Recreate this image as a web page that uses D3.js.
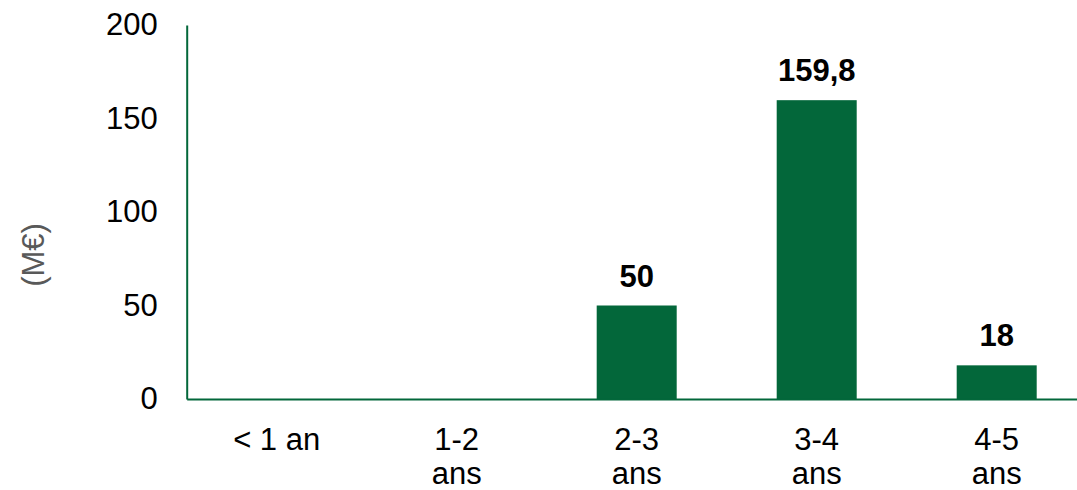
<!DOCTYPE html>
<html>
<head>
<meta charset="utf-8">
<script src="https://cdn.jsdelivr.net/npm/d3@7"></script>
<style>
  html, body { margin: 0; padding: 0; background: #fff; }
  svg { display: block; font-family: "Liberation Sans", Arial, Helvetica, sans-serif; }
</style>
</head>
<body>
<svg id="chart" width="1077" height="490"></svg>
<script>
// Maturity buckets and amounts (M€)
const categories = ["< 1 an", "1-2 ans", "2-3 ans", "3-4 ans", "4-5 ans"];
const amounts = [0, 0, 50, 159.8, 18];
const yTicks = [0, 50, 100, 150, 200];

const green = "#03673a";
const fontSize = 31;
const svg = d3.select("#chart");

const x0 = 186.7;
const x = d3.scaleBand()
  .domain(categories)
  .range([x0, x0 + 900])
  .paddingInner(100 / 180)
  .paddingOuter(50 / 180);

const y = d3.scaleLinear().domain([0, 200]).range([399, 25]);

const rows = categories.map((c, i) => ({ c, v: amounts[i] })).filter(d => d.v > 0);

// Bars
svg.append("g").selectAll("rect")
  .data(rows)
  .join("rect")
  .attr("x", d => x(d.c))
  .attr("y", d => y(d.v))
  .attr("width", x.bandwidth())
  .attr("height", d => y(0) - y(d.v))
  .attr("fill", green);

// Value labels
svg.append("g").selectAll("text")
  .data(rows)
  .join("text")
  .attr("x", d => x(d.c) + x.bandwidth() / 2)
  .attr("y", d => y(d.v) - 19)
  .attr("text-anchor", "middle")
  .attr("font-size", fontSize)
  .attr("font-weight", "bold")
  .attr("fill", "#000")
  .text(d => String(d.v).replace(".", ","));

// Y axis
const yAxis = svg.append("g")
  .attr("transform", `translate(${x0},0)`)
  .call(d3.axisLeft(y).tickValues(yTicks).tickSize(0).tickSizeOuter(0).tickPadding(29));
yAxis.select(".domain").attr("stroke", green).attr("stroke-width", 2);
yAxis.selectAll("text")
  .attr("font-size", fontSize)
  .attr("font-family", "Liberation Sans, Arial, sans-serif")
  .attr("fill", "#000");

// X axis
const xAxis = svg.append("g")
  .attr("transform", `translate(0,${y(0)})`)
  .call(d3.axisBottom(x).tickSize(0).tickSizeOuter(0).tickFormat(""));
xAxis.select(".domain").attr("stroke", green).attr("stroke-width", 2);

// Category labels, split onto two lines where needed
const catLabels = svg.append("g").selectAll("text")
  .data(categories)
  .join("text")
  .attr("x", d => x(d) + x.bandwidth() / 2)
  .attr("y", 450)
  .attr("text-anchor", "middle")
  .attr("font-size", fontSize)
  .attr("fill", "#000");
catLabels.each(function (d) {
  const parts = d.startsWith("<") ? [d] : d.split(" ");
  const t = d3.select(this);
  parts.forEach((p, i) => {
    t.append("tspan")
      .attr("x", x(d) + x.bandwidth() / 2)
      .attr("dy", i === 0 ? 0 : 34)
      .text(p);
  });
});

// Y axis title
svg.append("text")
  .attr("transform", "translate(44,255) rotate(-90)")
  .attr("text-anchor", "middle")
  .attr("font-size", fontSize)
  .attr("fill", "#595959")
  .text("(M€)");
</script>
</body>
</html>
